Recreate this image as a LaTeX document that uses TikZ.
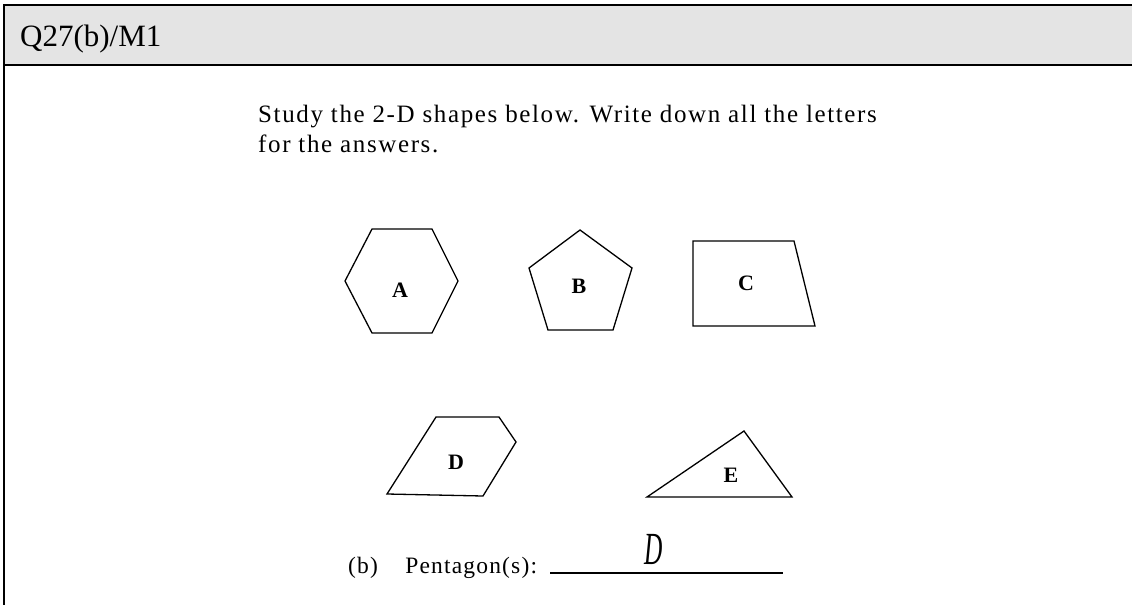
\documentclass[tikz,border=0pt]{standalone}
\usepackage{fontspec}
\setmainfont{Liberation Serif}
\newfontfamily\spacedfont[LetterSpace=6.5]{Liberation Serif}
\newfontfamily\answerfont[LetterSpace=5]{Liberation Serif}
\usepackage{xcolor}
\usetikzlibrary{positioning}
\definecolor{headgray}{HTML}{E4E4E4}

\begin{document}
\begin{tikzpicture}[
    x=1pt, y=-1pt,
    frame/.style={line width=2.5pt},
    figline/.style={line width=1.3pt, line join=miter},
    letter/.style={font=\fontsize{22}{24}\selectfont\bfseries, inner sep=0pt},
    body/.style={font=\spacedfont\fontsize{25}{30}\selectfont, anchor=base west, inner sep=0pt},
    answer/.style={font=\answerfont\fontsize{23.5}{28}\selectfont, anchor=base west, inner sep=0pt},
]
    \useasboundingbox (0,0) rectangle (1132,605);

    % header bar and frame
    \fill[headgray] (4,5) rectangle (1132,65);
    \draw[frame] (1132,5) -- (4,5) -- (4,605);
    \draw[frame] (4,65) -- (1132,65);
    \node[anchor=base west, inner sep=0pt, font=\fontsize{31}{34}\selectfont] (title) at (20,46) {Q27(b)/M1};

    % question text
    \node[body] (intro1) at (258,122) {Study the 2-D shapes below. Write down all the letters};
    \node[body] (intro2) at (258,152) {for the answers.};

    % shapes
    \draw[figline] (372,229) -- (432,229) -- (458,281) -- (432,333) -- (372,333) -- (345,281) -- cycle;
    \node[letter] (A) at (400,290) {A};
    \draw[figline] (580,230) -- (632,268) -- (613,330) -- (548,330) -- (529,268) -- cycle;
    \node[letter] (B) at (579,286) {B};
    \draw[figline] (693,241) -- (794,241) -- (815,326) -- (693,326) -- cycle;
    \node[letter] (C) at (746,283) {C};
    \draw[figline] (436,417) -- (499,417) -- (516,442) -- (483,496) -- (387,494) -- cycle;
    \node[letter] (D) at (456,462) {D};
    \draw[figline] (744,431) -- (792,497) -- (647,497) -- cycle;
    \node[letter] (E) at (731,475) {E};

    % answer line
    \node[answer] (partb) at (348,573) {(b)};
    \node[answer, right=27pt of partb.base east, anchor=base west] (pent) {Pentagon(s):};
    \coordinate (lineL) at (550,573);
    \coordinate (lineR) at (783,573);
    \draw[line width=1.2pt] (lineL) -- (lineR);
    \node[font=\fontsize{46}{46}\selectfont\itshape, inner sep=0pt] (ans) at (654,549) {\scalebox{0.55}[1]{D}};
\end{tikzpicture}
\end{document}
